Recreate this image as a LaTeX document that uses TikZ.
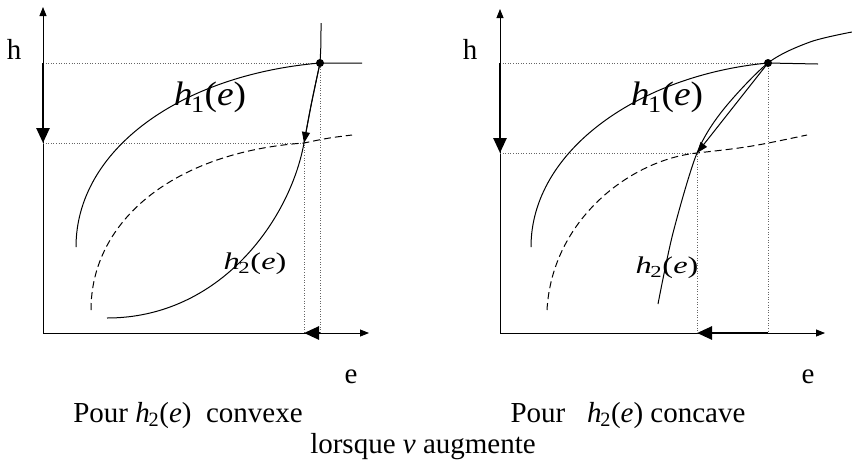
\documentclass[tikz,border=0pt]{standalone}
\usepackage{fontspec}
\setmainfont{Liberation Serif}
\usetikzlibrary{arrows.meta}
\newcommand\hfn[1]{\textit{h}\kern-.04em\textsubscript{#1}(\textit{e})}

\begin{document}
\begin{tikzpicture}[x=1pt,y=-1pt,
  axis/.style={line width=0.8pt,-{Triangle[length=9pt,width=7pt]}},
  move/.style={line width=2.6pt,-{Triangle[length=15pt,width=13pt]}},
  curve/.style={line width=1pt},
  tip/.style={-{Triangle[length=11pt,width=8pt]}},
  shifted/.style={dash pattern=on 7pt off 4pt},
  guide/.style={dotted,line width=0.6pt,black!60},
  lbl/.style={font=\fontsize{29}{32}\selectfont},
  big/.style={font=\fontsize{34}{36}\selectfont,xscale=1.1},
  small/.style={font=\fontsize{24}{26}\selectfont,xscale=1.35}]
\useasboundingbox (0,0) rectangle (852,459);

\coordinate (O1) at (43,333);
\coordinate (Y1) at (43,7);
\coordinate (X1) at (369,333);
\coordinate (P1) at (320,63);
\coordinate (Q1) at (304,143);
\draw[axis] (O1) -- (Y1);
\draw[axis] (O1) -- (X1);
\draw[guide] (O1 |- P1) -- (P1) -- (P1 |- O1);
\draw[guide] (O1 |- Q1) -- (Q1) -- (Q1 |- O1);
\draw[curve] (76,247) .. controls (76,150) and (180,75) .. (P1) -- (362,63);
\draw[curve,shifted] (91,310) .. controls (91,220) and (175,152) .. (Q1) .. controls (328,138) .. (352,135);
\draw[curve] (107,318) .. controls (220,318) and (290,220) .. (Q1) .. controls (311,105) .. (P1) .. controls (321,45) .. (321,23);
\draw[curve,tip] (P1) .. controls (311,105) .. (Q1);
\fill (P1) circle (4);
\draw[move] (O1 |- P1) -- (O1 |- Q1);
\draw[move] (P1 |- O1) -- (Q1 |- O1);
\node[lbl] (h1) at (14,49) {h};
\node[lbl] (e1) at (351,377) {e};
\node[big] (f1) at (210,97) {\hfn{1}};
\node[small] (g1) at (255,264) {\hfn{2}};
\node[lbl,anchor=base] (c1) at (188,422) {Pour \hfn{2}\ \ convexe};

\coordinate (O2) at (500,333);
\coordinate (Y2) at (500,9);
\coordinate (X2) at (825,333);
\coordinate (P2) at (768,63);
\coordinate (Q2) at (697,153);
\draw[axis] (O2) -- (Y2);
\draw[axis] (O2) -- (X2);
\draw[guide] (O2 |- P2) -- (P2) -- (P2 |- O2);
\draw[guide] (O2 |- Q2) -- (Q2) -- (Q2 |- O2);
\draw[curve] (531,247) .. controls (531,150) and (640,75) .. (P2) -- (818,64);
\draw[curve,shifted] (547,310) .. controls (552,220) and (630,160) .. (Q2) .. controls (750,147) .. (807,135);
\draw[curve] plot[smooth] coordinates {(658,304) (673,233) (Q2) (723,110) (P2) (810,42) (852,32)};
\draw[curve,tip] (P2) -- (Q2);
\fill (P2) circle (4);
\draw[move] (O2 |- P2) -- (O2 |- Q2);
\draw[move] (P2 |- O2) -- (Q2 |- O2);
\node[lbl] (h2) at (470,49) {h};
\node[lbl] (e2) at (808,377) {e};
\node[big] (f2) at (667,97) {\hfn{1}};
\node[small] (g2) at (667,268) {\hfn{2}};
\node[lbl,anchor=base] (c2) at (628,422) {Pour\ \ \ \hfn{2} concave};

\node[lbl,anchor=base] (note) at (423,453) {lorsque \textit{v} augmente};
\end{tikzpicture}
\end{document}
